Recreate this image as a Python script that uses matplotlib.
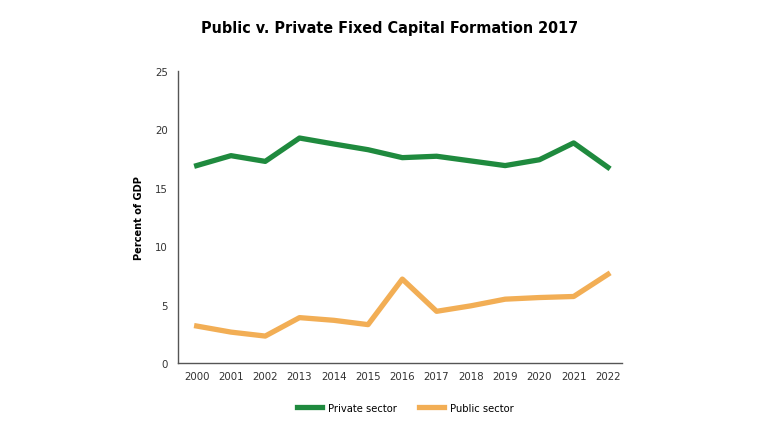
import matplotlib
matplotlib.use("Agg")
import matplotlib.pyplot as plt

years = ["2000", "2001", "2002", "2013", "2014", "2015", "2016",
         "2017", "2018", "2019", "2020", "2021", "2022"]
private_sector = [16.9, 17.75, 17.26, 19.26, 18.75, 18.26, 17.58,
                  17.7, 17.3, 16.9, 17.4, 18.84, 16.75]
public_sector = [3.16, 2.64, 2.3, 3.88, 3.65, 3.28, 7.18,
                 4.42, 4.89, 5.46, 5.6, 5.69, 7.59]

plt.rcParams['font.family'] = ['DejaVu Sans']
plt.rcParams['font.stretch'] = 'condensed'

fig = plt.figure(figsize=(7.8, 4.39), dpi=100)
ax = fig.add_axes([0.228, 0.171, 0.569, 0.665])

x = range(len(years))
ax.plot(x, private_sector, color='#1f8a3e', linewidth=3.8,
        solid_joinstyle='round', label='Private sector')
ax.plot(x, public_sector, color='#f2ae55', linewidth=3.8,
        solid_joinstyle='round', label='Public sector')

ax.set_xlim(-0.55, 12.4)
ax.set_ylim(0, 25)
ax.set_yticks([0, 5, 10, 15, 20, 25])
ax.set_xticks(list(x))
ax.set_xticklabels(years)
ax.tick_params(length=0, labelsize=8.2, colors='#333333', pad=6)
ax.tick_params(axis='y', pad=7)

for side in ['top', 'right']:
    ax.spines[side].set_visible(False)
for side in ['left', 'bottom']:
    ax.spines[side].set_color('#555555')
    ax.spines[side].set_linewidth(1.0)

ax.set_ylabel("Percent of GDP", fontsize=7.8, fontweight='bold', labelpad=8)

fig.text(0.5, 0.934, "Public v. Private Fixed Capital Formation 2017",
         ha='center', va='center', fontsize=11.5, fontweight='bold')

fig.legend(loc='center', bbox_to_anchor=(0.52, 0.068), ncol=2, frameon=False,
           fontsize=8, handlelength=2.2, handletextpad=0.6, columnspacing=2.0)

fig.savefig("out.png", dpi=100)
